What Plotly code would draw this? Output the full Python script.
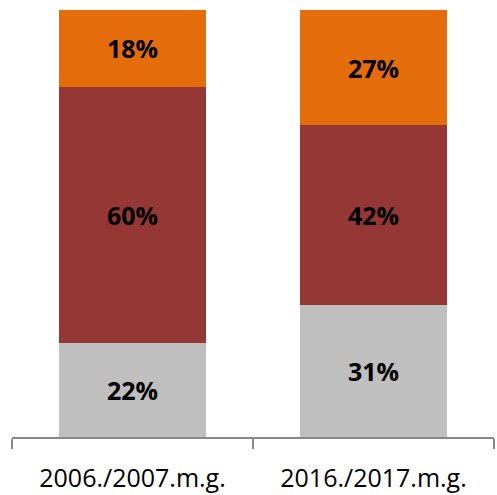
import plotly.graph_objects as go

categories = ["2006./2007.m.g.", "2016./2017.m.g."]
bottom_vals = [22, 31]
middle_vals = [60, 42]
top_vals = [18, 27]

colors = ["#BFBFBF", "#953735", "#E46C0A"]

fig = go.Figure()
for vals, color in zip([bottom_vals, middle_vals, top_vals], colors):
    fig.add_trace(go.Bar(
        x=categories, y=vals, marker=dict(color=color, line=dict(width=0)),
        text=[f"{v}%" for v in vals], textposition="inside",
        insidetextanchor="middle",
        textfont=dict(color="black", size=25, family="Open Sans"),
        texttemplate="<b>%{text}</b>",
    ))

fig.update_layout(
    barmode="stack", bargap=0.386, showlegend=False,
    width=497, height=495,
    margin=dict(l=12, r=3, t=10, b=58),
    plot_bgcolor="white", paper_bgcolor="white",
    font=dict(family="Open Sans", size=25, color="black"),
    xaxis=dict(showline=True, linecolor="#888888", linewidth=1.5,
               ticks="outside", tickson="boundaries", ticklen=10,
               tickcolor="#888888", tickwidth=1.5, showgrid=False,
               ticklabelstandoff=18, automargin=False),
    yaxis=dict(range=[0, 100], visible=False, showgrid=False),
)

fig.write_html("out.html", config={"displayModeBar": False},
               post_script="document.body.style.margin='0';document.body.style.overflow='hidden';")
